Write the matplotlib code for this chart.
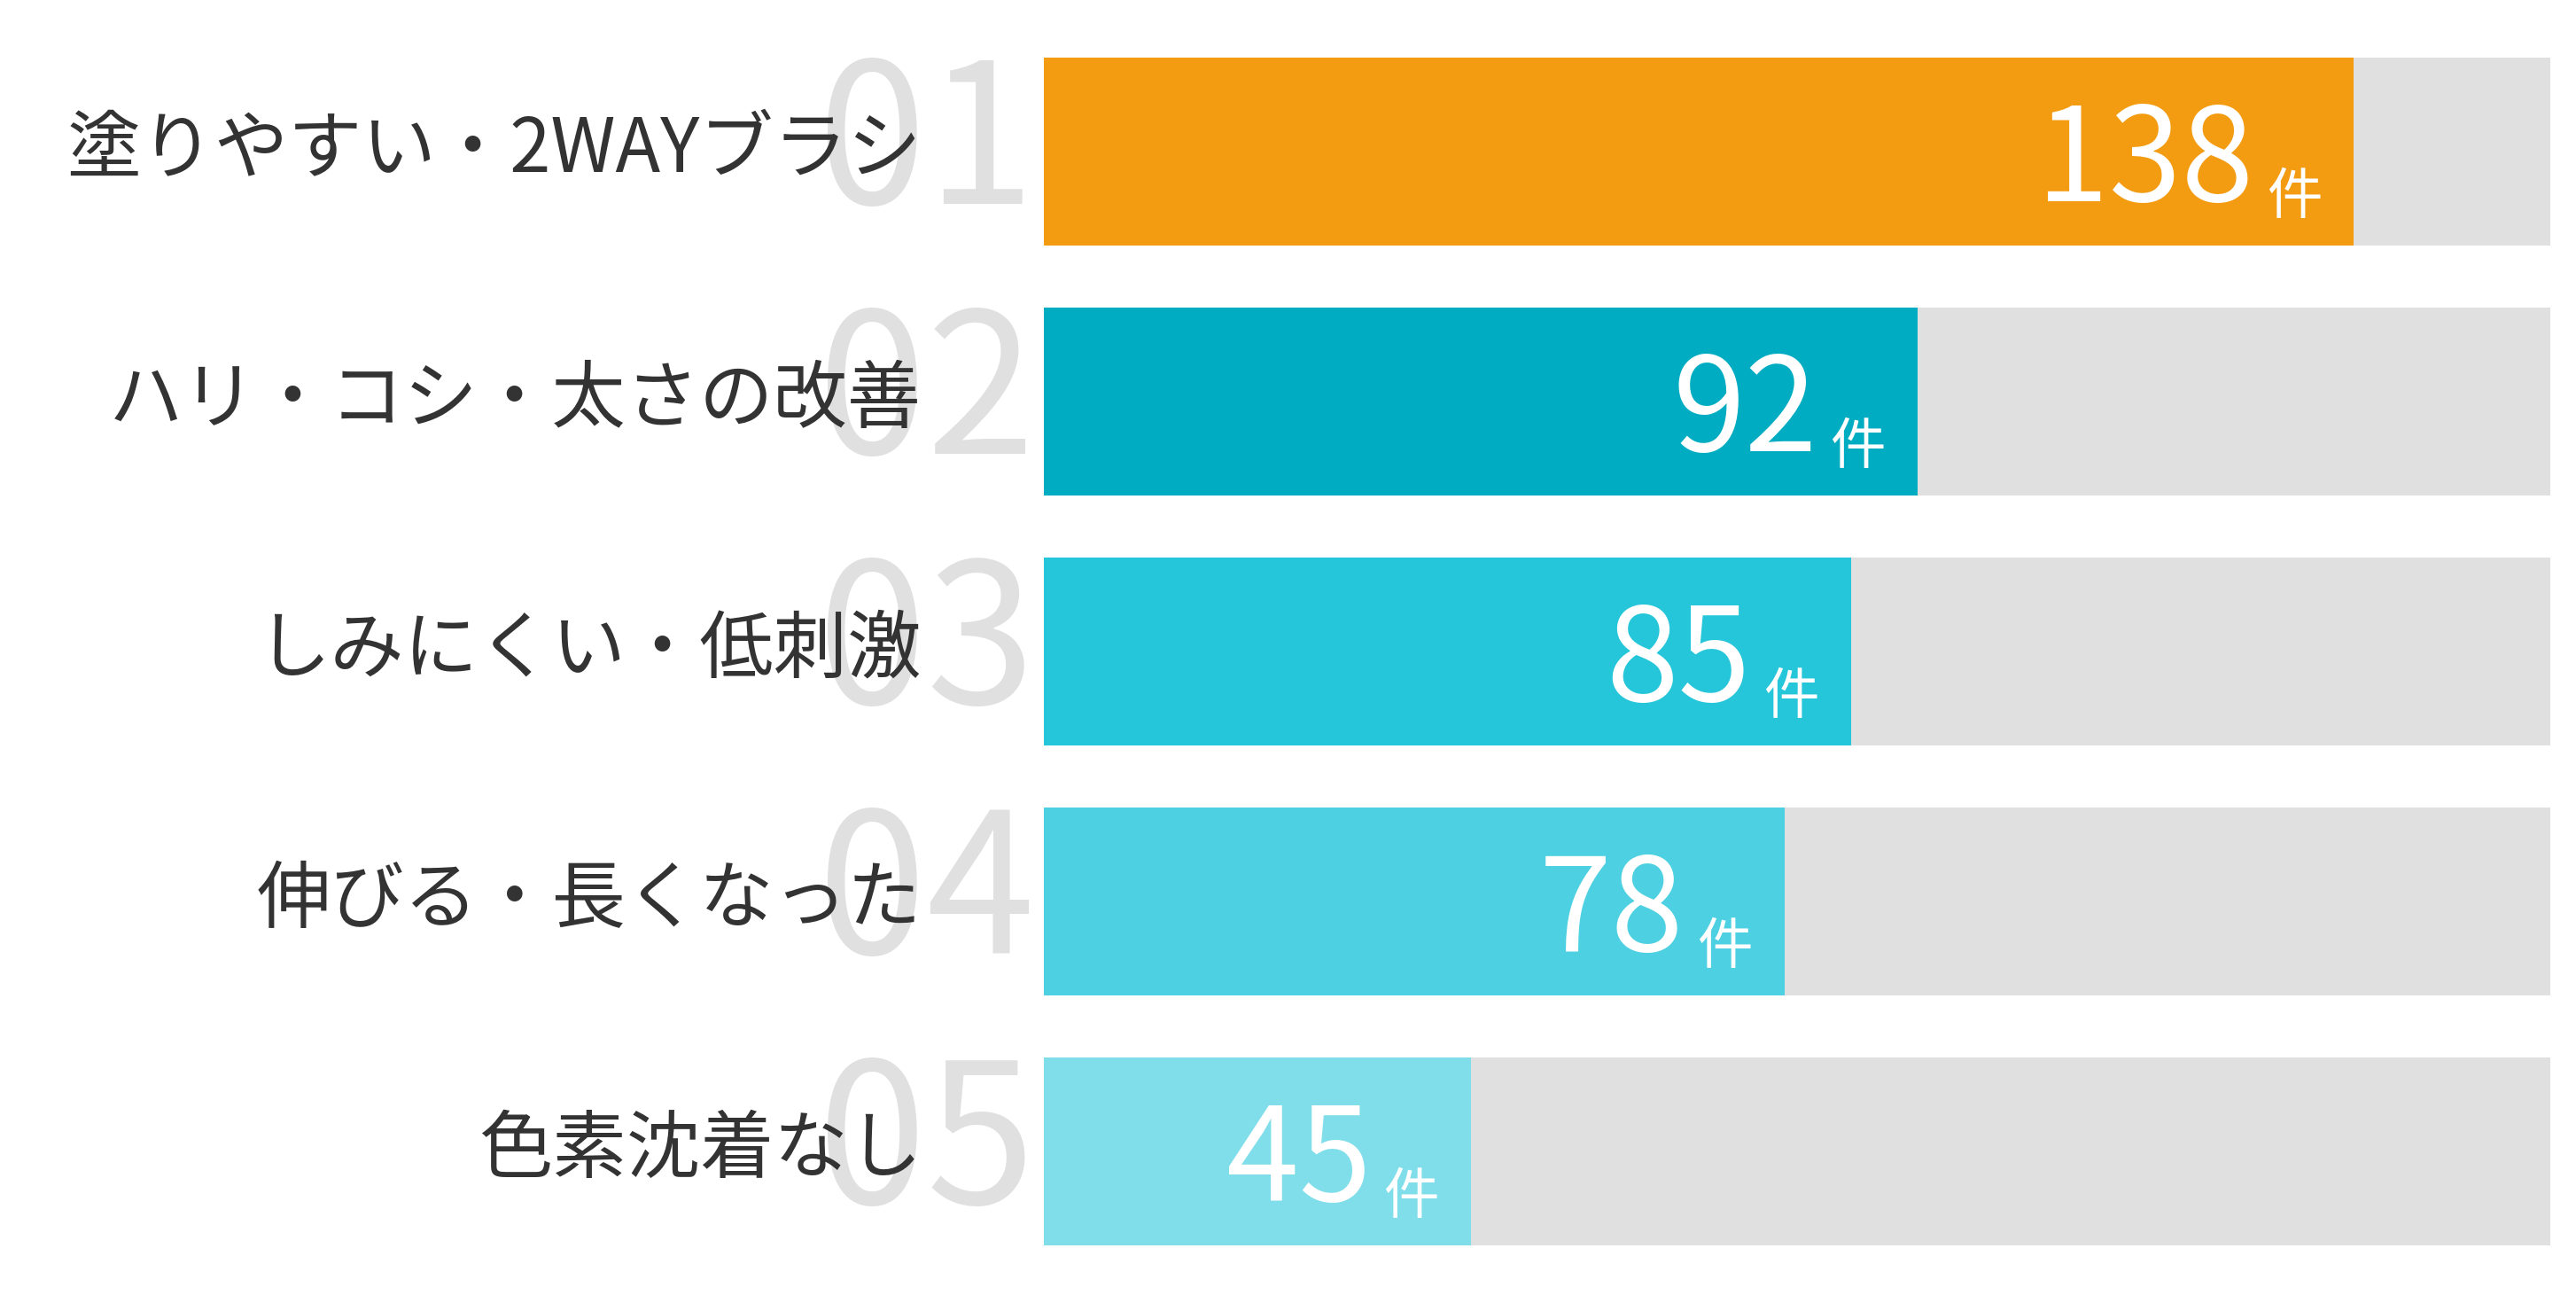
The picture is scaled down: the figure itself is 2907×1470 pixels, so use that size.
import matplotlib
matplotlib.use("Agg")
import matplotlib.pyplot as plt

plt.rcParams['font.family'] = ['Noto Sans CJK JP', 'DejaVu Sans']

categories = ["塗りやすい・2WAYブラシ", "ハリ・コシ・太さの改善", "しみにくい・低刺激",
              "伸びる・長くなった", "色素沈着なし"]
values = [138, 92, 85, 78, 45]
ranks = ["01", "02", "03", "04", "05"]
unit = "件"
colors = ["#F39C12", "#00ACC1", "#26C6DA", "#4DD0E1", "#80DEEA"]
track_color = "#E0E0E0"

W, H = 2907, 1470
fig = plt.figure(figsize=(W / 100, H / 100), dpi=100)
ax_left = 1178 / W
ax_right = 2878 / W
ax_top_px = 29.75
ax_bot_px = 1440
ax = fig.add_axes([ax_left, (H - ax_bot_px) / H, ax_right - ax_left, (ax_bot_px - ax_top_px) / H])

vmax = max(values) * 1.15
ys = list(range(len(values)))
ax.barh(ys, [vmax] * len(values), height=0.75, color=track_color, zorder=1)
ax.barh(ys, values, height=0.75, color=colors, zorder=2)
ax.set_xlim(0, vmax)
ax.set_ylim(len(values) - 0.5, -0.5)
ax.axis('off')

for i, (cat, v, r) in enumerate(zip(categories, values, ranks)):
    # big gray rank number (behind labels)
    ax.annotate(r, xy=(0, i), xytext=(-10, -59), textcoords='offset pixels',
                ha='right', va='baseline', fontsize=159, color="#E0E0E0",
                zorder=1, annotation_clip=False)
    # category label
    ax.annotate(cat, xy=(0, i), xytext=(-138, -23), textcoords='offset pixels',
                ha='right', va='baseline', fontsize=60, color="#333333",
                zorder=5, annotation_clip=False)
    # unit
    ax.annotate(unit, xy=(v, i), xytext=(-36, -70), textcoords='offset pixels',
                ha='right', va='baseline', fontsize=45, color="white", zorder=6)
    # value
    ax.annotate(str(v), xy=(v, i), xytext=(-113, -56), textcoords='offset pixels',
                ha='right', va='baseline', fontsize=106, color="white", zorder=6)

fig.savefig("out.png", dpi=100, facecolor="white")
